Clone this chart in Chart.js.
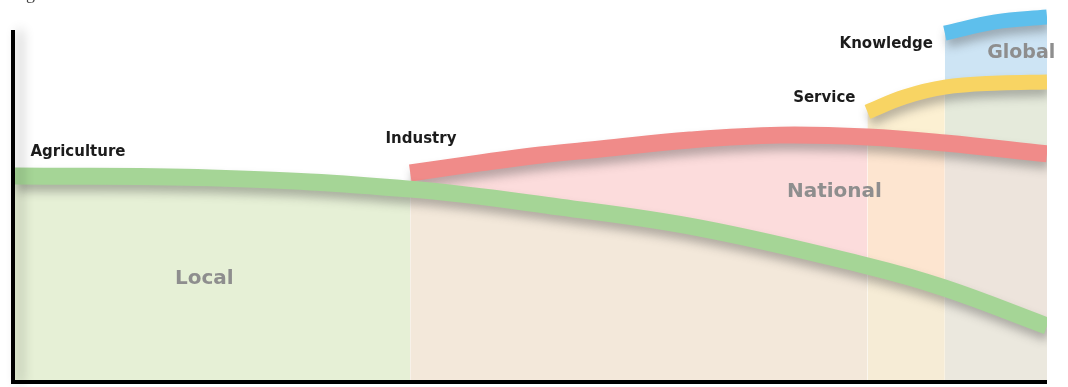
<!DOCTYPE html>
<html>
<head>
<meta charset="utf-8">
<title>Stages of the economy</title>
<script src="https://cdn.jsdelivr.net/npm/chart.js@4.4.1/dist/chart.umd.min.js"></script>
<style>
  html, body { margin: 0; padding: 0; background: #fff; }
  #wrap { width: 1068px; height: 387px; position: relative; }
</style>
</head>
<body>
<div id="wrap"><canvas id="stageChart"></canvas></div>
<script>
// where industry, service and knowledge start on the time axis
const stageStarts = [38.3, 82.6, 90.1];

const seriesNames = ['Agriculture', 'Industry', 'Service', 'Knowledge'];
const regionNames = ['Local', 'National', 'Global'];

const agriX = [0, 18.9, 38.3, 52.8, 66.4, 82.6, 90.1, 100];
const agriY = [54.4, 53.9, 50.9, 46.1, 40.5, 30.4, 24.5, 14.4];

const indX = [38.3, 45.1, 50.9, 56.7, 65.4, 74.1, 82.6, 90.1, 100];
const indY = [55.2, 57.9, 60.0, 61.6, 64.0, 65.3, 64.8, 63.2, 60.3];

const svcX = [82.6, 86.2, 90.1, 95.4, 100];
const svcY = [71.5, 75.5, 78.1, 79.2, 79.5];

const knwX = [90.1, 95.0, 100];
const knwY = [92.5, 95.5, 96.8];

const toPoints = (xs, ys) => xs.map((x, i) => ({ x: x, y: ys[i] }));

const stageOf = x => {
  if (x < stageStarts[0]) return 0;
  if (x < stageStarts[1]) return 1;
  if (x < stageStarts[2]) return 2;
  return 3;
};

// band colours for each layer, one per stage column
const underAgri = ['#e6f0d6', '#f3e8da', '#f6ecd6', '#ebe8de'];
const agriToInd = ['#fcdcdc', '#fcdcdc', '#fde5d0', '#ede4dc'];
const indToSvc = ['#fcf0d2', '#fcf0d2', '#fcf0d2', '#e5eadb'];
const svcToKnw = ['#cde4f4', '#cde4f4', '#cde4f4', '#cde4f4'];

function lineSet(label, xs, ys, color, width) {
  return {
    label: label,
    data: toPoints(xs, ys),
    borderColor: color,
    borderWidth: width,
    borderJoinStyle: 'round',
    backgroundColor: color,
    tension: 0.4,
    pointRadius: 0,
    fill: false
  };
}

function fillSet(xs, ys, target, colors) {
  return {
    label: 'fill',
    data: toPoints(xs, ys),
    borderWidth: 0,
    borderColor: 'transparent',
    backgroundColor: 'transparent',
    tension: 0.4,
    pointRadius: 0,
    fill: target,
    segment: {
      backgroundColor: ctx => colors[stageOf(xs[ctx.p0DataIndex])]
    }
  };
}

const shadowPlugin = {
  id: 'lineShadow',
  beforeDatasetDraw(chart, args) {
    if (args.index > 3) return;
    const c = chart.ctx;
    c.save();
    c.shadowColor = 'rgba(60,60,60,0.35)';
    c.shadowBlur = 10;
    c.shadowOffsetX = 2;
    c.shadowOffsetY = 7;
  },
  afterDatasetDraw(chart, args) {
    if (args.index > 3) return;
    chart.ctx.restore();
  }
};

const seriesLabelAt = [[1.5, 60.8], [35.9, 64.3], [75.4, 75.2], [79.9, 89.6]];
const regionLabelAt = [[15.5, 26.9], [74.8, 50.3], [94.2, 87.2]];

const decorPlugin = {
  id: 'decor',
  afterDatasetsDraw(chart) {
    const c = chart.ctx;
    const a = chart.chartArea;
    const xs = chart.scales.x;
    const ys = chart.scales.y;

    // axes
    c.save();
    c.strokeStyle = '#000';
    c.lineWidth = 4;
    c.shadowColor = 'rgba(0,0,0,0.3)';
    c.shadowBlur = 12;
    c.shadowOffsetX = 7;
    c.beginPath();
    c.moveTo(a.left - 2, a.top + 25);
    c.lineTo(a.left - 2, a.bottom + 4);
    c.stroke();
    c.shadowColor = 'transparent';
    c.beginPath();
    c.moveTo(a.left - 4, a.bottom + 2);
    c.lineTo(a.right, a.bottom + 2);
    c.stroke();
    c.restore();

    c.save();
    c.textAlign = 'left';
    c.textBaseline = 'middle';
    c.font = 'bold 15px "DejaVu Sans"';
    c.fillStyle = '#1c1c1c';
    seriesNames.forEach((t, i) => {
      c.fillText(t, xs.getPixelForValue(seriesLabelAt[i][0]), ys.getPixelForValue(seriesLabelAt[i][1]));
    });
    c.fillStyle = '#8e8e8e';
    regionNames.forEach((t, i) => {
      c.font = i === 2 ? 'bold 19px "DejaVu Sans"' : 'bold 20px "DejaVu Sans"';
      c.fillText(t, xs.getPixelForValue(regionLabelAt[i][0]), ys.getPixelForValue(regionLabelAt[i][1]));
    });

    // caption cut off at the top of the picture, only the descender shows
    c.textBaseline = 'alphabetic';
    c.font = '18px "Liberation Serif"';
    c.fillStyle = '#444';
    c.fillText('Figure', 11, -1.5);
    c.restore();
  }
};

new Chart(document.getElementById('stageChart'), {
  type: 'line',
  data: {
    datasets: [
      lineSet(seriesNames[0], agriX, agriY, '#a5d596', 17),
      lineSet(seriesNames[1], indX, indY, '#f08b89', 17),
      lineSet(seriesNames[2], svcX, svcY, '#f8d463', 15),
      lineSet(seriesNames[3], knwX, knwY, '#5ebfec', 15),
      fillSet(agriX, agriY, 'start', underAgri),
      fillSet(indX, indY, 4, agriToInd),
      fillSet(svcX, svcY, 5, indToSvc),
      fillSet(knwX, knwY, 6, svcToKnw)
    ]
  },
  options: {
    responsive: true,
    maintainAspectRatio: false,
    animation: false,
    events: [],
    layout: { padding: { left: 15, right: 21, top: 5, bottom: 7 } },
    plugins: {
      legend: { display: false },
      tooltip: { enabled: false }
    },
    scales: {
      x: { type: 'linear', min: 0, max: 100, display: false },
      y: { min: 0, max: 100, display: false }
    }
  },
  plugins: [shadowPlugin, decorPlugin]
});
</script>
</body>
</html>
